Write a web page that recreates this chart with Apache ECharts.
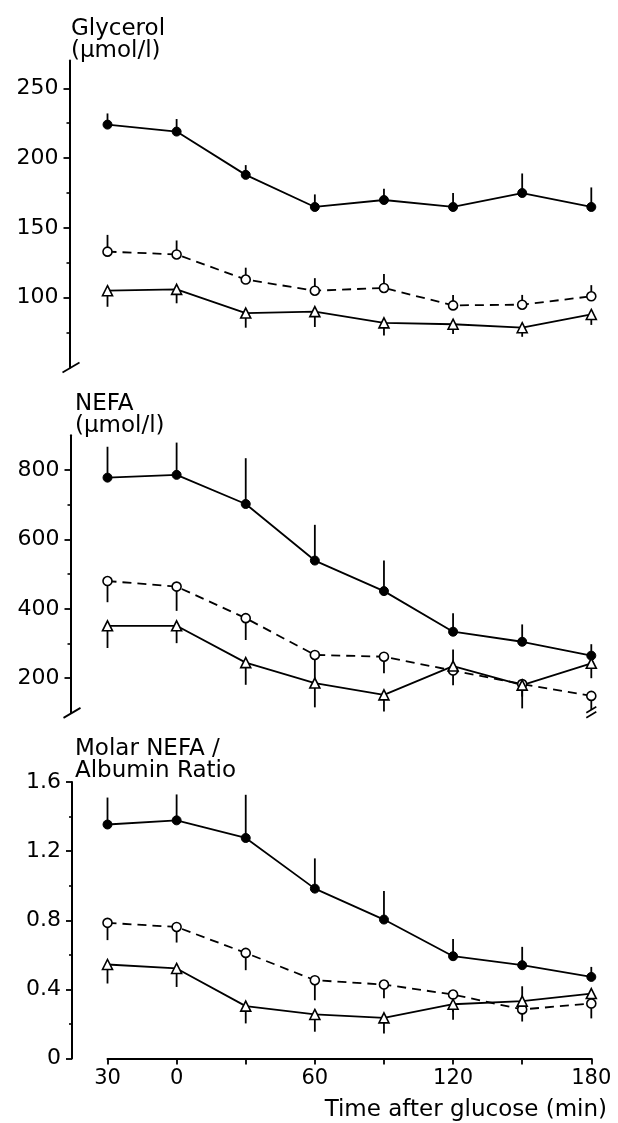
<!DOCTYPE html>
<html>
<head>
<meta charset="utf-8">
<script src="https://cdn.jsdelivr.net/npm/echarts@6/dist/echarts.min.js"></script>
<style>
html,body{margin:0;padding:0;background:#fff;}
#main{width:618px;height:1123px;}
</style>
</head>
<body>
<div id="main"></div>
<script>
// ---- data ----
const times = [-30, 0, 30, 60, 90, 120, 150, 180];
const xLabelValues = [-30, 0, 60, 120, 180];
const xLabelTexts = ['30', '0', '60', '120', '180'];

const glyTicks = [100, 150, 200, 250];
const glyMinorTicks = [75, 125, 175, 225];
const glyFilled = [224, 219, 188, 165, 170, 165, 175, 165];
const glyFilledErr = [8, 9, 7, 9, 8, 10, 14, 14];
const glyOpen = [133, 131, 113, 105, 107, 94.5, 95, 101];
const glyOpenErr = [12, 10, 8.5, 9, 10, 7.5, 7, 8];
const glyTri = [105, 106, 89, 90, 82, 81, 78.5, 88];
const glyTriErr = [11.5, 10, 10.5, 11, 9, 7, 6.5, 7.5];

const nefaTicks = [200, 400, 600, 800];
const nefaMinorTicks = [300, 500, 700];
const nefaFilled = [778, 786, 702, 539, 451, 334, 305, 265];
const nefaFilledErr = [89, 93, 132, 103, 88, 53, 50, 33];
const nefaOpen = [480, 464, 373, 267, 262, 222, 183, 149];
const nefaOpenErr = [61, 70, 63, 80, 48, 42, 36, 40];
const nefaTri = [351, 351, 245, 186, 152, 235, 180, 243];
const nefaTriErr = [64, 50, 64, 70, 48, 48, 67, 43];
const nefaTriDir = [-1, -1, -1, -1, -1, 1, -1, -1];

const ratioTicks = [0, 0.4, 0.8, 1.2, 1.6];
const ratioMinorTicks = [0.2, 0.6, 1.0, 1.4];
const ratioFilled = [1.354, 1.378, 1.276, 0.983, 0.804, 0.592, 0.54, 0.472];
const ratioFilledErr = [0.156, 0.15, 0.25, 0.175, 0.165, 0.1, 0.106, 0.058];
const ratioOpen = [0.785, 0.761, 0.611, 0.453, 0.428, 0.37, 0.284, 0.318];
const ratioOpenErr = [0.1, 0.09, 0.1, 0.116, 0.08, 0.1, 0.07, 0.086];
const ratioTri = [0.544, 0.521, 0.303, 0.255, 0.235, 0.314, 0.332, 0.376];
const ratioTriErr = [0.11, 0.107, 0.1, 0.1, 0.09, 0.09, 0.086, 0];
const ratioTriDir = [-1, -1, -1, -1, -1, -1, 1, -1];

// ---- layout ----
const FONT = 'DejaVu Sans';
const BLACK = '#000';
const GL = 107.5, GW = 483.8;
const panels = [
  {top: 60.4, height: 307.1, min: 50, max: 270, offset: 38, ticks: glyTicks, minor: glyMinorTicks, fmt: v => String(v)},
  {top: 435.3, height: 277.6, min: 100, max: 900, offset: 37, ticks: nefaTicks, minor: nefaMinorTicks, fmt: v => String(v)},
  {top: 782, height: 276.5, min: 0, max: 1.6, offset: 35.5, ticks: ratioTicks, minor: ratioMinorTicks, fmt: v => v === 0 ? '0' : v.toFixed(1)}
];

const grids = panels.map(p => ({left: GL, width: GW, top: p.top, height: p.height}));

const xAxes = panels.map((p, i) => ({
  type: 'value', gridIndex: i, min: -30, max: 180, interval: 30,
  show: i === 2,
  axisLine: {show: true, onZero: false, lineStyle: {color: BLACK, width: 2}},
  axisTick: {show: true, inside: false, length: 6, customValues: times, lineStyle: {color: BLACK, width: 1.8}},
  axisLabel: {
    show: true, margin: 10, customValues: xLabelValues,
    fontFamily: FONT, fontSize: 21, color: BLACK,
    formatter: v => { const k = xLabelValues.indexOf(v); return k >= 0 ? xLabelTexts[k] : ''; }
  },
  splitLine: {show: false}
}));

const yAxes = [];
panels.forEach((p, i) => {
  yAxes.push({
    type: 'value', gridIndex: i, min: p.min, max: p.max, offset: p.offset, position: 'left',
    axisLine: {show: true, onZero: false, lineStyle: {color: BLACK, width: 2}},
    axisTick: {show: true, length: 6, customValues: p.ticks, lineStyle: {color: BLACK, width: 1.8}},
    axisLabel: {show: true, margin: 11, customValues: p.ticks, fontFamily: FONT, fontSize: 22, color: BLACK, formatter: p.fmt},
    splitLine: {show: false}
  });
  yAxes.push({
    type: 'value', gridIndex: i, min: p.min, max: p.max, offset: p.offset, position: 'left',
    axisLine: {show: false, onZero: false},
    axisTick: {show: true, length: 3, customValues: p.minor, lineStyle: {color: BLACK, width: 1.6}},
    axisLabel: {show: false},
    splitLine: {show: false}
  });
});

function lineSeries(panel, vals, kind) {
  const base = {
    type: 'line', xAxisIndex: panel, yAxisIndex: panel * 2, z: 3,
    data: times.map((t, i) => [t, vals[i]]),
    lineStyle: {color: BLACK, width: 1.8, type: kind === 'open' ? [9, 6] : 'solid'},
    symbolSize: 9, showSymbol: true, animation: false, silent: true
  };
  if (kind === 'filled') {
    base.symbol = 'circle';
    base.itemStyle = {color: BLACK, borderColor: BLACK, borderWidth: 1};
  } else if (kind === 'open') {
    base.symbol = 'circle';
    base.itemStyle = {color: '#fff', borderColor: BLACK, borderWidth: 1.6};
  } else {
    base.symbol = 'triangle';
    base.symbolSize = 10;
    base.itemStyle = {color: '#fff', borderColor: BLACK, borderWidth: 1.6};
  }
  return base;
}

function errSeries(panel, vals, errs, dirs) {
  return {
    type: 'custom', xAxisIndex: panel, yAxisIndex: panel * 2, z: 2, animation: false, silent: true,
    encode: {x: 0, y: [1, 2]},
    data: times.map((t, i) => [t, vals[i], vals[i] + dirs[i] * errs[i]]),
    renderItem: function (params, api) {
      const a = api.coord([api.value(0), api.value(1)]);
      const b = api.coord([api.value(0), api.value(2)]);
      return {type: 'line', shape: {x1: a[0], y1: a[1], x2: b[0], y2: b[1]}, style: {stroke: BLACK, lineWidth: 1.8}};
    }
  };
}

const up = times.map(() => 1);
const down = times.map(() => -1);

const series = [
  errSeries(0, glyFilled, glyFilledErr, up),
  errSeries(0, glyOpen, glyOpenErr, up),
  errSeries(0, glyTri, glyTriErr, down),
  lineSeries(0, glyFilled, 'filled'),
  lineSeries(0, glyOpen, 'open'),
  lineSeries(0, glyTri, 'tri'),

  errSeries(1, nefaFilled, nefaFilledErr, up),
  errSeries(1, nefaOpen, nefaOpenErr, down),
  errSeries(1, nefaTri, nefaTriErr, nefaTriDir),
  lineSeries(1, nefaFilled, 'filled'),
  lineSeries(1, nefaOpen, 'open'),
  lineSeries(1, nefaTri, 'tri'),

  errSeries(2, ratioFilled, ratioFilledErr, up),
  errSeries(2, ratioOpen, ratioOpenErr, down),
  errSeries(2, ratioTri, ratioTriErr, ratioTriDir),
  lineSeries(2, ratioFilled, 'filled'),
  lineSeries(2, ratioOpen, 'open'),
  lineSeries(2, ratioTri, 'tri')
];

const titleStyle = {fontFamily: FONT, fontSize: 23, fontWeight: 'normal', color: BLACK, lineHeight: 22};
const titles = [
  {text: 'Glycerol\n(µmol/l)', left: 66, top: 13, textStyle: titleStyle},
  {text: 'NEFA\n(µmol/l)', left: 70, top: 388, textStyle: titleStyle},
  {text: 'Molar NEFA /\nAlbumin Ratio', left: 70, top: 733, textStyle: titleStyle},
  {text: 'Time after glucose (min)', right: 6, top: 1094, textStyle: Object.assign({}, titleStyle, {lineHeight: 23})}
];

const chart = echarts.init(document.getElementById('main'), null, {renderer: 'canvas'});
chart.setOption({
  backgroundColor: '#fff',
  animation: false,
  title: titles,
  grid: grids,
  xAxis: xAxes,
  yAxis: yAxes,
  series: series
});

// axis-break slashes at the bottom of the first two y axes
const deco = [0, 1].map(i => {
  const p = panels[i];
  const y = chart.convertToPixel({yAxisIndex: i * 2}, p.min);
  const x = GL - p.offset;
  return {type: 'line', shape: {x1: x - 7, y1: y + 5, x2: x + 10, y2: y - 5}, style: {stroke: BLACK, lineWidth: 1.8}, silent: true};
});
// break marks on the last NEFA open-circle error bar (bar continues off scale)
const last = times.length - 1;
const pb = chart.convertToPixel({xAxisIndex: 1, yAxisIndex: 2}, [times[last], nefaOpen[last] - nefaOpenErr[last]]);
[0, 5].forEach(dy => {
  deco.push({type: 'line', shape: {x1: pb[0] - 5, y1: pb[1] + dy + 3, x2: pb[0] + 5, y2: pb[1] + dy - 3}, style: {stroke: BLACK, lineWidth: 1.6}, silent: true});
});
chart.setOption({graphic: deco});
</script>
</body>
</html>
